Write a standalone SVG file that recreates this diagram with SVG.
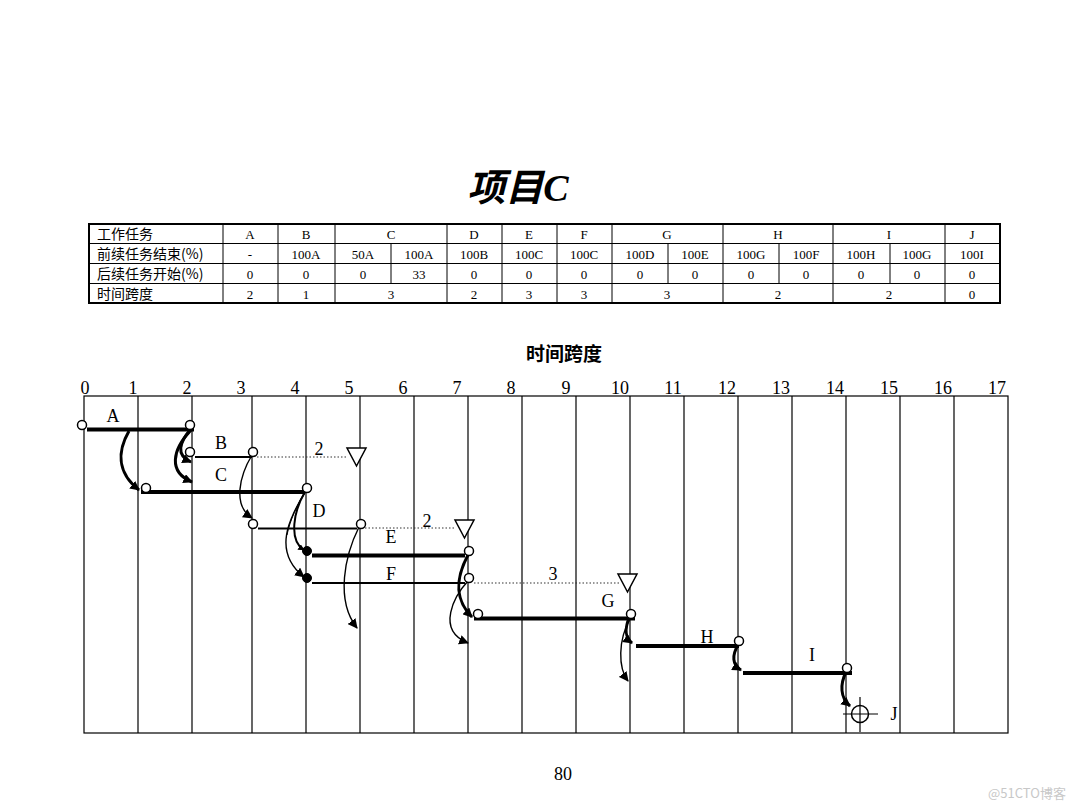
<svg xmlns="http://www.w3.org/2000/svg" width="1080" height="810" viewBox="0 0 1080 810">
<style>
.t{font-family:"Liberation Serif","Noto Sans CJK SC",serif;fill:#000}
.cj{font-family:"Noto Sans CJK SC","Liberation Sans",sans-serif;fill:#000}
.tc{font-size:13px;text-anchor:middle}
.tl{font-size:14px}
.ax{font-size:18px;text-anchor:middle}
.lb{font-size:18px;text-anchor:middle}
.grid{stroke:#000;stroke-width:1.2}
.thick{stroke:#000;stroke-width:4}
.thin{stroke:#000;stroke-width:2}
.dot{stroke:#333;stroke-width:1.2;stroke-dasharray:1.5 2}
.oc{fill:#fff;stroke:#000;stroke-width:1.5}
.fc{fill:#000;stroke:#000;stroke-width:1}
.tri{fill:#fff;stroke:#000;stroke-width:1.5}
.ca{fill:none;stroke:#000;stroke-width:3;marker-end:url(#ah)}
.cb{fill:none;stroke:#000;stroke-width:1.4;marker-end:url(#ah2)}
</style>
<defs>
<marker id="ah" viewBox="0 0 10 10" refX="9" refY="5" markerWidth="3.2" markerHeight="3.2" orient="auto" markerUnits="strokeWidth"><path d="M0,0 L10,5 L0,10 z" fill="#000"/></marker>
<marker id="ah2" viewBox="0 0 10 10" refX="9" refY="5" markerWidth="7" markerHeight="7" orient="auto" markerUnits="strokeWidth"><path d="M0,0 L10,5 L0,10 z" fill="#000"/></marker>
</defs>
<rect width="1080" height="810" fill="#fff"/>

<g id="title">
<text x="518" y="201" class="t" font-size="38" font-weight="bold" font-style="italic" text-anchor="middle">项目C</text>
</g>

<g id="table">
<rect x="89" y="224" width="911" height="79" fill="none" stroke="#000" stroke-width="2"/>
<g stroke="#000" stroke-width="1">
<line x1="89" y1="243.5" x2="1000" y2="243.5"/>
<line x1="89" y1="263.5" x2="1000" y2="263.5"/>
<line x1="89" y1="283.5" x2="1000" y2="283.5"/>
<!-- full-height columns -->
<line x1="223" y1="224" x2="223" y2="303"/>
<line x1="278" y1="224" x2="278" y2="303"/>
<line x1="335" y1="224" x2="335" y2="303"/>
<line x1="447" y1="224" x2="447" y2="303"/>
<line x1="502" y1="224" x2="502" y2="303"/>
<line x1="557" y1="224" x2="557" y2="303"/>
<line x1="612" y1="224" x2="612" y2="303"/>
<line x1="723" y1="224" x2="723" y2="303"/>
<line x1="833" y1="224" x2="833" y2="303"/>
<line x1="945" y1="224" x2="945" y2="303"/>
<!-- split columns rows 2-3 -->
<line x1="391" y1="243.5" x2="391" y2="283.5"/>
<line x1="668" y1="243.5" x2="668" y2="283.5"/>
<line x1="779" y1="243.5" x2="779" y2="283.5"/>
<line x1="890" y1="243.5" x2="890" y2="283.5"/>
</g>
<g class="cj tl">
<text x="97" y="239">工作任务</text>
<text x="97" y="259">前续任务结束(%)</text>
<text x="97" y="279">后续任务开始(%)</text>
<text x="97" y="299">时间跨度</text>
</g>
<g class="t tc">
<text x="250" y="239">A</text><text x="306" y="239">B</text><text x="391" y="239">C</text><text x="474" y="239">D</text><text x="529" y="239">E</text><text x="584" y="239">F</text><text x="667" y="239">G</text><text x="778" y="239">H</text><text x="889" y="239">I</text><text x="972" y="239">J</text>
<text x="250" y="259">-</text><text x="306" y="259">100A</text><text x="363" y="259">50A</text><text x="419" y="259">100A</text><text x="474" y="259">100B</text><text x="529" y="259">100C</text><text x="584" y="259">100C</text><text x="640" y="259">100D</text><text x="695" y="259">100E</text><text x="751" y="259">100G</text><text x="806" y="259">100F</text><text x="861" y="259">100H</text><text x="917" y="259">100G</text><text x="972" y="259">100I</text>
<text x="250" y="279">0</text><text x="306" y="279">0</text><text x="363" y="279">0</text><text x="419" y="279">33</text><text x="474" y="279">0</text><text x="529" y="279">0</text><text x="584" y="279">0</text><text x="640" y="279">0</text><text x="695" y="279">0</text><text x="751" y="279">0</text><text x="806" y="279">0</text><text x="861" y="279">0</text><text x="917" y="279">0</text><text x="972" y="279">0</text>
<text x="250" y="299">2</text><text x="306" y="299">1</text><text x="391" y="299">3</text><text x="474" y="299">2</text><text x="529" y="299">3</text><text x="584" y="299">3</text><text x="667" y="299">3</text><text x="778" y="299">2</text><text x="889" y="299">2</text><text x="972" y="299">0</text>
</g>
</g>

<g id="axis-title">
<text x="564" y="361" class="cj" font-size="19" font-weight="bold" text-anchor="middle">时间跨度</text>
</g>

<g id="axis">
<g class="t ax">
<text x="85" y="394">0</text><text x="133" y="394">1</text><text x="187" y="394">2</text><text x="241" y="394">3</text><text x="295" y="394">4</text><text x="349" y="394">5</text><text x="403" y="394">6</text><text x="457" y="394">7</text><text x="511" y="394">8</text><text x="566" y="394">9</text><text x="620" y="394">10</text><text x="673" y="394">11</text><text x="727" y="394">12</text><text x="781" y="394">13</text><text x="835" y="394">14</text><text x="889" y="394">15</text><text x="943" y="394">16</text><text x="997" y="394">17</text>
</g>
<rect x="84" y="396" width="924" height="337" fill="none" stroke="#000" stroke-width="1.2"/>
<g class="grid">
<line x1="138" y1="396" x2="138" y2="733"/><line x1="192" y1="396" x2="192" y2="733"/><line x1="252" y1="396" x2="252" y2="733"/><line x1="306" y1="396" x2="306" y2="733"/><line x1="360" y1="396" x2="360" y2="733"/><line x1="414" y1="396" x2="414" y2="733"/><line x1="468" y1="396" x2="468" y2="733"/><line x1="522" y1="396" x2="522" y2="733"/><line x1="576" y1="396" x2="576" y2="733"/><line x1="630" y1="396" x2="630" y2="733"/><line x1="684" y1="396" x2="684" y2="733"/><line x1="738" y1="396" x2="738" y2="733"/><line x1="792" y1="396" x2="792" y2="733"/><line x1="846" y1="396" x2="846" y2="733"/><line x1="900" y1="396" x2="900" y2="733"/><line x1="954" y1="396" x2="954" y2="733"/>
</g>
</g>

<g id="connectors">
<!-- A to C -->
<path class="ca" d="M129,431 C118,450 116,472 139,490"/>
<!-- A end to B start -->
<path class="ca" d="M190,430 C180,442 175,455 191,462"/>
<!-- A end to C at 2 -->
<path class="ca" d="M191,430 C172,450 168,472 192,482"/>
<!-- B end to D start -->
<path class="cb" d="M252,455 C240,475 232,505 252,518"/>
<!-- C end to E start -->
<path class="ca" style="stroke-width:2" d="M305,492 C294,510 288,540 304,550"/>
<!-- C end to F start (thin) -->
<path class="cb" d="M305,492 C292,515 270,550 304,577"/>
<path fill="none" stroke="#000" stroke-width="1" d="M306,491 C297,505 290,520 287,535"/>
<!-- D end down -->
<path class="cb" d="M359,527 C345,555 335,600 357,628"/>
<!-- E end to G start -->
<path class="ca" d="M468,555 C460,570 450,595 472,617"/>
<!-- F end down -->
<path class="cb" d="M468,581 C455,595 435,630 468,643"/>
<!-- G end to H start -->
<path class="ca" d="M629,618 C625,628 625,638 632,643"/>
<!-- G end down -->
<path class="cb" d="M630,619 C618,640 618,668 628,681"/>
<!-- H end to I start -->
<path class="ca" d="M738,645 C732,655 732,665 741,670"/>
<!-- I end to J -->
<path class="ca" d="M846,672 C840,684 840,698 850,706"/>
</g>

<g id="dotted-lines">
<line class="dot" x1="257" y1="457" x2="348" y2="457"/>
<line class="dot" x1="365" y1="528" x2="456" y2="528"/>
<line class="dot" x1="474" y1="583" x2="619" y2="583"/>
</g>

<g id="task-A">
<line class="thick" x1="87" y1="429.5" x2="194" y2="429.5"/>
<circle class="oc" cx="82" cy="425" r="4.5"/>
<circle class="oc" cx="190" cy="425" r="4.5"/>
<text class="t lb" x="113" y="422">A</text>
</g>
<g id="task-B">
<line class="thin" x1="195" y1="457" x2="252" y2="457"/>
<circle class="oc" cx="190" cy="452" r="4.5"/>
<circle class="oc" cx="253" cy="452" r="4.5"/>
<text class="t lb" x="221" y="449">B</text>
<text class="t lb" x="319" y="455">2</text>
<polygon class="tri" points="347,448 366,448 356.5,466"/>
</g>
<g id="task-C">
<line class="thick" x1="141" y1="492" x2="305" y2="492"/>
<circle class="oc" cx="146" cy="488" r="4.5"/>
<circle class="oc" cx="307" cy="488" r="4.5"/>
<text class="t lb" x="221" y="481">C</text>
</g>
<g id="task-D">
<line class="thin" x1="258" y1="528.5" x2="357" y2="528.5"/>
<circle class="oc" cx="253" cy="524" r="4.5"/>
<circle class="oc" cx="361" cy="524" r="4.5"/>
<text class="t lb" x="319" y="517">D</text>
<text class="t lb" x="427" y="527">2</text>
<polygon class="tri" points="455,520 474,520 464.5,538"/>
</g>
<g id="task-E">
<line class="thick" x1="312" y1="555.5" x2="465" y2="555.5"/>
<circle class="fc" cx="307" cy="551" r="4.5"/>
<circle class="oc" cx="469" cy="551" r="4.5"/>
<text class="t lb" x="391" y="543">E</text>
</g>
<g id="task-F">
<line class="thin" x1="312" y1="583" x2="465" y2="583"/>
<circle class="fc" cx="307" cy="578" r="4.5"/>
<circle class="oc" cx="469" cy="578" r="4.5"/>
<text class="t lb" x="391" y="580">F</text>
<text class="t lb" x="553" y="580">3</text>
<polygon class="tri" points="618,574 637,574 627.5,592"/>
</g>
<g id="task-G">
<line class="thick" x1="474" y1="618.5" x2="635" y2="618.5"/>
<circle class="oc" cx="478" cy="614" r="4.5"/>
<circle class="oc" cx="631" cy="614" r="4.5"/>
<text class="t lb" x="608" y="607">G</text>
</g>
<g id="task-H">
<line class="thick" x1="636" y1="646" x2="739" y2="646"/>
<circle class="oc" cx="739" cy="641" r="4.5"/>
<text class="t lb" x="707" y="643">H</text>
</g>
<g id="task-I">
<line class="thick" x1="743" y1="673" x2="852" y2="673"/>
<circle class="oc" cx="847" cy="668" r="4.5"/>
<text class="t lb" x="812" y="661">I</text>
</g>
<g id="task-J">
<circle cx="860" cy="714" r="8.5" fill="none" stroke="#000" stroke-width="1.5"/>
<line x1="843" y1="714" x2="878" y2="714" stroke="#000" stroke-width="1.2"/>
<line x1="860" y1="697" x2="860" y2="732" stroke="#000" stroke-width="1.2"/>
<text class="t lb" x="894" y="720">J</text>
</g>

<g id="footer">
<text x="563" y="780" class="t" font-size="18" text-anchor="middle">80</text>
<text x="1027" y="798" class="cj" font-size="13" fill="#c8c8c8" style="fill:#c8c8c8" text-anchor="middle">@51CTO博客</text>
</g>
</svg>
